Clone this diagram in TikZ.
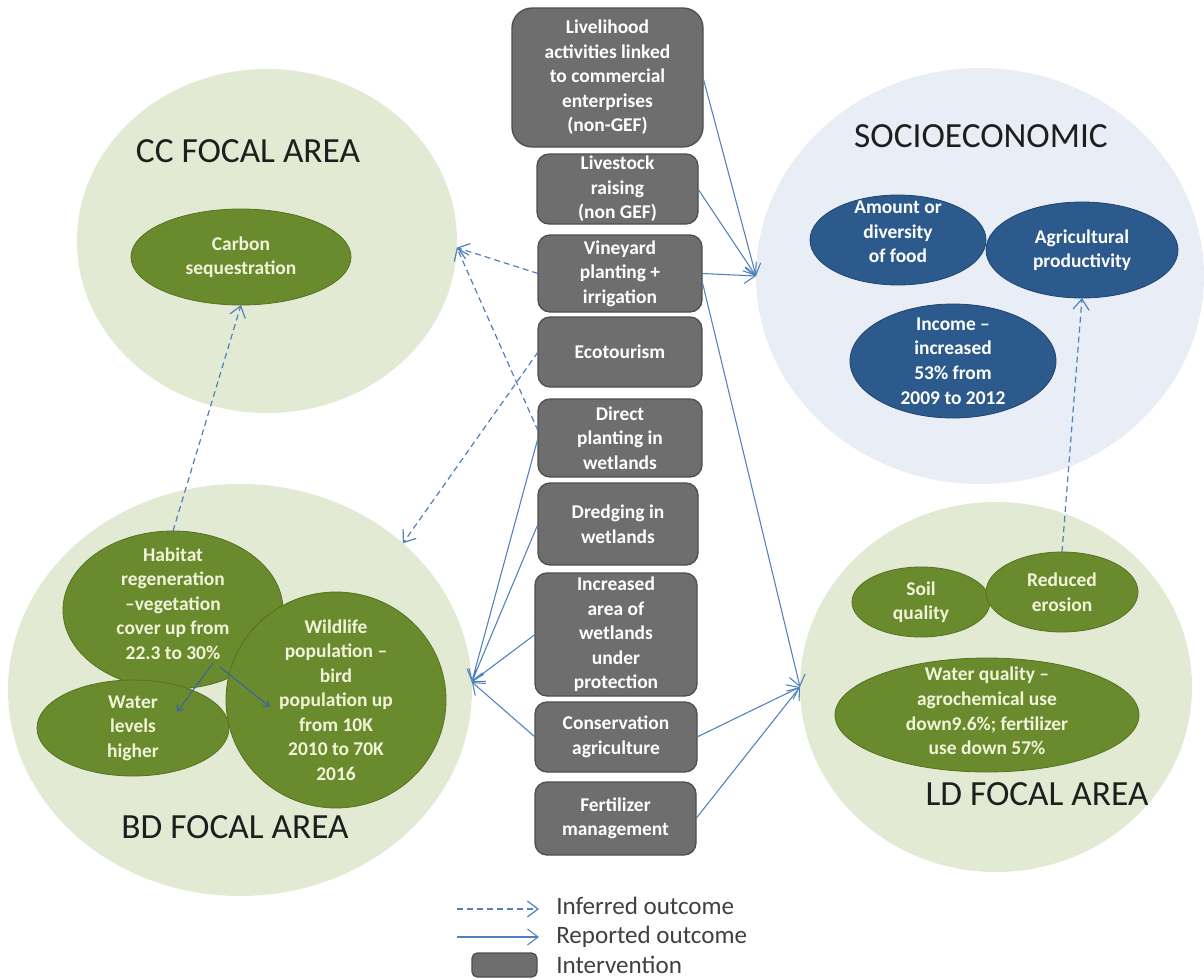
\documentclass[tikz,border=0pt]{standalone}
\usepackage{fontspec}
\setmainfont{Carlito}
\usetikzlibrary{shapes.geometric,arrows.meta}
\definecolor{areagreen}{HTML}{E3EAD3}
\definecolor{areablue}{HTML}{E9EEF6}
\definecolor{outgreen}{HTML}{6A8A2E}
\definecolor{outgreenline}{HTML}{55721F}
\definecolor{outblue}{HTML}{2C5A8C}
\definecolor{outblueline}{HTML}{1F4570}
\definecolor{intgray}{HTML}{6E6E6E}
\definecolor{intgrayline}{HTML}{4F4F4F}
\definecolor{linkblue}{HTML}{4F81BD}
\definecolor{creamtext}{HTML}{F1F4D9}
\definecolor{titletext}{HTML}{1E1E1E}
\newcommand{\smallbold}{\fontsize{14.6}{18.4}\selectfont\bfseries}
\newcommand{\areafont}{\fontsize{26.5}{30}\selectfont}
\newcommand{\legendfont}{\fontsize{18.8}{22}\selectfont}
\tikzstyle{focalarea}=[ellipse, draw=none, inner sep=0pt, outer sep=0pt]
\tikzstyle{areatitle}=[font=\areafont, text=titletext, inner sep=0pt]
\tikzstyle{outcome}=[ellipse, draw=outgreenline, fill=outgreen, line width=0.6pt, inner sep=0pt, outer sep=0pt]
\tikzstyle{socoutcome}=[outcome, draw=outblueline, fill=outblue]
\tikzstyle{outtext}=[align=center, text=creamtext, font=\smallbold, inner sep=0pt]
\tikzstyle{intervention}=[rectangle, rounded corners=9pt, draw=intgrayline, fill=intgray, line width=1pt, text=white, font=\smallbold, align=center, inner sep=0pt, outer sep=0pt]
\tikzstyle{reported}=[draw=linkblue, line width=0.8pt, -{Straight Barb[length=8pt,width=12pt]}]
\tikzstyle{inferred}=[reported, line width=0.9pt, dash pattern=on 4.5pt off 3pt]
\tikzstyle{innerlink}=[draw=linkblue!80!black, line width=0.9pt, -{Straight Barb[length=4pt,width=6pt]}]
\tikzstyle{legendtext}=[font=\legendfont, text=titletext!85, inner sep=0pt, anchor=base west]
\tikzset{ellsize/.style 2 args={minimum width=#1*1.5pt, minimum height=#2*1.5pt},
  boxsize/.style 2 args={minimum width=#1*0.75pt, minimum height=#2*0.75pt}}

\begin{document}
\begin{tikzpicture}[x=0.75pt,y=-0.75pt]
\fill[white] (0,0) rectangle (1204,979);
\useasboundingbox (0,0) rectangle (1204,979);
% focal areas
\node[focalarea, fill=areagreen, ellsize={190}{172}] (cc) at (267,241) {};
\node[focalarea, fill=areagreen, ellsize={232}{206}] (bd) at (240,690) {};
\node[focalarea, fill=areagreen, ellsize={196}{185}] (ld) at (996,687) {};
\node[focalarea, fill=areablue, ellsize={224}{208}] (socio) at (980,276) {};
\node[areatitle] (cctitle) at (248,151) {CC FOCAL AREA};
\node[areatitle] (bdtitle) at (235,827) {BD FOCAL AREA};
\node[areatitle] (ldtitle) at (1037,794) {LD FOCAL AREA};
\node[areatitle] (sociotitle) at (981,136) {SOCIOECONOMIC};
% outcomes
\node[outcome, ellsize={110}{48}] (carbon) at (241,257) {};
\node[outcome, ellsize={110}{79}] (habitat) at (173,610) {};
\node[outcome, ellsize={96}{48}] (waterlev) at (133,728) {};
\node[outcome, ellsize={110}{108}] (wildlife) at (336,700) {};
\node[outcome, ellsize={69}{35}] (soil) at (921,602) {};
\node[outcome, ellsize={76}{40}] (erosion) at (1062,592) {};
\node[outcome, ellsize={152}{57}] (waterq) at (987,715) {};
\node[socoutcome, ellsize={88}{45}] (food) at (898,240) {};
\node[socoutcome, ellsize={96}{48}] (agri) at (1082,250) {};
\node[socoutcome, ellsize={103}{57}] (income) at (953,361) {};
\node[outtext] at (carbon) {Carbon\\sequestration};
\node[outtext, yshift=5pt] at (habitat) {Habitat\\regeneration\\--vegetation\\cover up from\\22.3 to 30\%};
\node[outtext] at (waterlev) {Water\\levels\\higher};
\node[outtext] at (wildlife) {Wildlife\\population --\\bird\\population up\\from 10K\\2010 to 70K\\2016};
\node[outtext] at (soil) {Soil\\quality};
\node[outtext] at (erosion) {Reduced\\erosion};
\node[outtext, yshift=3pt] at (waterq) {Water quality --\\agrochemical use\\down9.6\%; fertilizer\\use down 57\%};
\node[outtext, text=white, yshift=6pt] at (food) {Amount or\\diversity\\of food};
\node[outtext, text=white] at (agri) {Agricultural\\productivity};
\node[outtext, text=white] at (income) {Income --\\increased\\53\% from\\2009 to 2012};
% interventions
\node[intervention, rounded corners=15pt, boxsize={191}{139}] (livelihood) at (607.5,77.5) {Livelihood\\activities linked\\to commercial\\enterprises\\(non-GEF)};
\node[intervention, boxsize={161}{70}] (livestock) at (617.5,189) {Livestock\\raising\\(non GEF)};
\node[intervention, boxsize={164}{77}] (vineyard) at (620,273.5) {Vineyard\\planting +\\irrigation};
\node[intervention, boxsize={164}{70}] (ecotourism) at (620,352) {Ecotourism};
\node[intervention, boxsize={164}{78}] (planting) at (620,438) {Direct\\planting in\\wetlands};
\node[intervention, boxsize={160}{82}] (dredging) at (618,524) {Dredging in\\wetlands};
\node[intervention, boxsize={162}{123}] (wetlands) at (616,634.5) {Increased\\area of\\wetlands\\under\\protection};
\node[intervention, boxsize={162}{70}] (conservation) at (616,737) {Conservation\\agriculture};
\node[intervention, boxsize={161}{73}] (fertilizer) at (615.5,818.5) {Fertilizer\\management};
% links
\foreach \src in {livelihood,livestock,vineyard}
  \draw[reported] (\src.east) -- (socio.west);
\foreach \src in {vineyard.-5,conservation.east,fertilizer.east}
  \draw[reported] (\src) -- (ld.west);
\foreach \src in {planting,dredging,wetlands,conservation}
  \draw[reported] (\src.west) -- (bd.2);
\foreach \src in {vineyard.west,planting.175}
  \draw[inferred] (\src) -- (cc.-2);
\draw[inferred] (ecotourism.west) -- (bd.42);
\draw[inferred] (habitat.north) -- (carbon.south);
\draw[inferred] (erosion.north) -- (agri.south);
\draw[innerlink] ([shift={(40,53)}]habitat.center) -- ([shift={(44,-16)}]waterlev.center);
\draw[innerlink] ([shift={(47,57)}]habitat.center) -- ([shift={(-66,7)}]wildlife.center);
% legend
\coordinate (inferredA) at (457,909);
\coordinate (inferredB) at (539,909);
\coordinate (reportedA) at (457,937);
\coordinate (reportedB) at (539,937);
\draw[inferred] (inferredA) -- (inferredB);
\draw[reported] (reportedA) -- (reportedB);
\node[intervention, rounded corners=4pt, boxsize={65}{24}] (legbox) at (504.5,965) {};
\node[legendtext] (leginferred) at (556,914) {Inferred outcome};
\node[legendtext] (legreported) at (556,943) {Reported outcome};
\node[legendtext] (legintervention) at (556,973) {Intervention};
\end{tikzpicture}
\end{document}
